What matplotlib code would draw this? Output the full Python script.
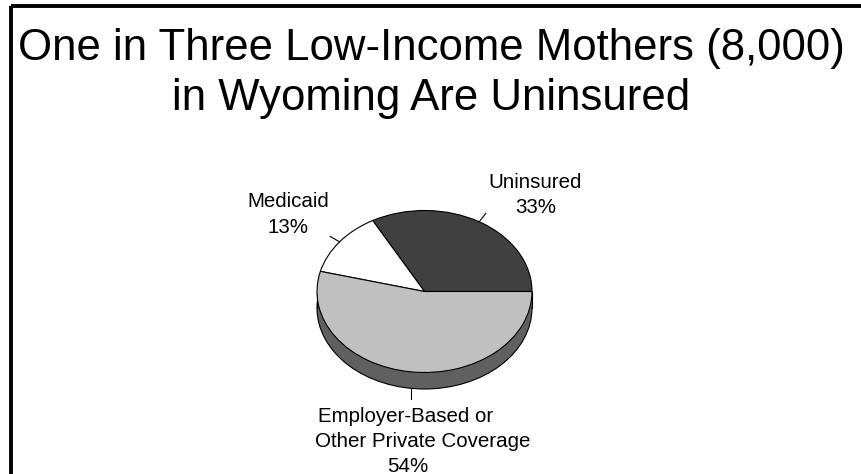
import numpy as np
import matplotlib
matplotlib.use("Agg")
import matplotlib.pyplot as plt
from matplotlib.patches import Ellipse, Rectangle

plt.rcParams['font.family'] = ['Liberation Sans', 'DejaVu Sans']

title_lines = ["One in Three Low-Income Mothers (8,000)", "in Wyoming Are Uninsured"]
categories = ["Uninsured", "Medicaid", "Employer-Based or Other Private Coverage"]
values = [33, 13, 54]
colors = ["#404040", "#ffffff", "#c0c0c0"]
side_color = "#606060"

W, H = 861, 474
fig = plt.figure(figsize=(W / 100, H / 100), dpi=100)
main = fig.add_axes([0, 0, 1, 1])
main.set_xlim(0, W)
main.set_ylim(H, 0)
main.axis('off')

# frame
main.add_patch(Rectangle((10.5, 6), 870, 480, fill=False, ec='black', lw=2.8, clip_on=False))

# title
main.text(431.5, 60, title_lines[0], ha='center', va='baseline', fontsize=31.5)
main.text(431.5, 110, title_lines[1], ha='center', va='baseline', fontsize=31.5)

# pie axes (ellipse: semi-axes 107.5 x 81 px, depth 16.5 px)
a_px, b_px, depth_px = 107.5, 81.0, 16.5
cx, top_y = 424.5, 210.5
d = depth_px / b_px
pax = fig.add_axes([(cx - a_px) / W, 1 - (top_y + 2 * b_px + depth_px) / H,
                    2 * a_px / W, (2 * b_px + depth_px) / H])
wedges, _ = pax.pie(values, colors=colors, startangle=0, counterclock=True,
                    wedgeprops=dict(edgecolor='black', linewidth=0.8))
for w_ in wedges:
    w_.set_clip_on(False)
    w_.set_zorder(3)
pax.set_aspect('auto')
pax.set_xlim(-1, 1)
pax.set_ylim(-1 - d, 1)
pax.axis('off')

# 3D side
pax.add_patch(Ellipse((0, -d), 2, 2, fc=side_color, ec='black', lw=0.8, zorder=1, clip_on=False))
pax.add_patch(Rectangle((-1, -d), 2, d, fc=side_color, ec='none', zorder=1.5, clip_on=False))
pax.plot([-1, -1], [0, -d], color='black', lw=0.8, zorder=2, clip_on=False)
pax.plot([1, 1], [0, -d], color='black', lw=0.8, zorder=2, clip_on=False)

# leader lines
cum = np.cumsum([0] + values)
mids = np.deg2rad((cum[:-1] + cum[1:]) / 2 / 100 * 360)
for i, th in enumerate(mids):
    c, s = np.cos(th), np.sin(th)
    if s >= 0:
        k = 0.12 if i == 0 else 0.11
        pax.plot([c, (1 + k) * c], [s, (1 + k) * s], color='black', lw=0.8, zorder=4, clip_on=False)
    else:
        pax.plot([c, c], [s - d, s - d - 0.13], color='black', lw=0.8, zorder=4, clip_on=False)

# labels
fs = 14.8
main.text(535.5, 188.3, "Uninsured", ha='center', va='baseline', fontsize=fs)
main.text(535.5, 213, f"{values[0]}%", ha='center', va='baseline', fontsize=fs)
main.text(288, 207.3, "Medicaid", ha='center', va='baseline', fontsize=fs)
main.text(288, 233, f"{values[1]}%", ha='center', va='baseline', fontsize=fs)
main.text(406, 421.7, "Employer-Based or", ha='center', va='baseline', fontsize=fs)
main.text(422.5, 446.7, "Other Private Coverage", ha='center', va='baseline', fontsize=fs)
main.text(407.5, 471.7, f"{values[2]}%", ha='center', va='baseline', fontsize=fs)

fig.savefig("out.png", dpi=100)
